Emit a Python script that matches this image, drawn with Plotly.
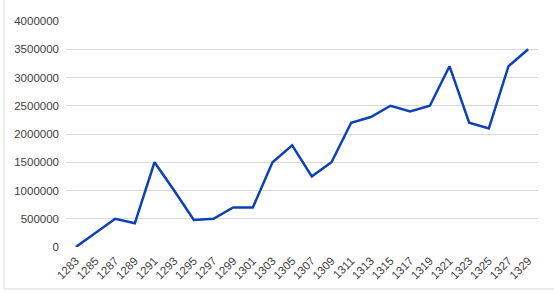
import plotly.graph_objects as go

years = [str(y) for y in range(1283, 1330, 2)]
values = [0, 250000, 500000, 420000, 1500000, 1000000, 480000, 500000, 700000, 700000,
          1500000, 1800000, 1250000, 1500000, 2200000, 2300000, 2500000, 2400000, 2500000,
          3200000, 2200000, 2100000, 3200000, 3500000]
y_ticks = [0, 500000, 1000000, 1500000, 2000000, 2500000, 3000000, 3500000, 4000000]

W, H = 554, 293
L, R, T, B = 66, 16, 21, 46
pw, ph = W - L - R, H - T - B

idx = list(range(len(years)))
fig = go.Figure(go.Scatter(x=idx, y=values, mode="lines",
                           line=dict(color="#0D41B4", width=2.5)))

y_bottom_border = (T + ph - 289) / ph
x_left_border = (4 - L) / pw
fig.update_layout(
    width=W, height=H, margin=dict(l=L, r=R, t=T, b=B),
    paper_bgcolor="white", plot_bgcolor="white", showlegend=False,
    font=dict(family="Liberation Sans, Arial, sans-serif", size=11, color="#404040"),
    xaxis=dict(range=[-0.5, len(years) - 0.5], tickvals=idx, ticktext=years,
               tickangle=-45, showgrid=False, zeroline=False, showline=False,
               ticks="", ticklabelstandoff=4, tickfont=dict(size=11.5, color="#404040")),
    yaxis=dict(range=[0, 4000000], tickvals=y_ticks, ticktext=[str(v) for v in y_ticks],
               showgrid=True, gridcolor="#d9d9d9", gridwidth=1, zeroline=False,
               showline=False, ticks="", ticklabelstandoff=6,
               tickfont=dict(size=11.5, color="#404040")),
    shapes=[
        dict(type="line", xref="paper", yref="paper",
             x0=x_left_border, x1=x_left_border, y0=y_bottom_border, y1=(T + ph) / ph,
             line=dict(color="#d9d9d9", width=1)),
        dict(type="line", xref="paper", yref="paper",
             x0=x_left_border, x1=(W - L) / pw, y0=y_bottom_border, y1=y_bottom_border,
             line=dict(color="#d9d9d9", width=1)),
    ],
)
fig.write_html("out.html")
